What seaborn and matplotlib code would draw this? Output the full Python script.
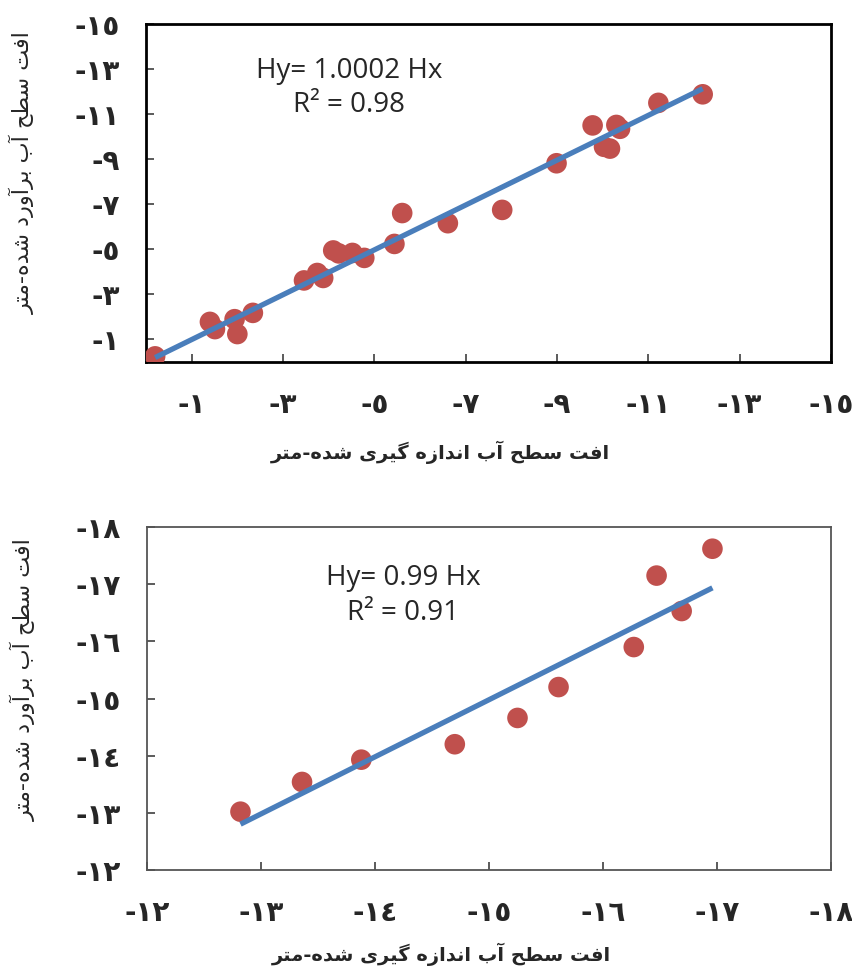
import numpy as np
import pandas as pd
import matplotlib
matplotlib.use("Agg")
import matplotlib.pyplot as plt
import seaborn as sns

# ---------------- data ----------------
top_measured = [-0.20, -1.40, -1.51, -1.94, -2.00, -2.34, -3.46, -3.75, -3.88, -4.10, -4.22,
                -4.52, -4.78, -5.44, -5.61, -6.61, -7.80, -8.99, -9.78, -10.03, -10.16,
                -10.30, -10.38, -11.22, -12.19]
top_estimated = [-0.25, -1.78, -1.46, -1.90, -1.24, -2.18, -3.62, -3.95, -3.73, -4.95, -4.82,
                 -4.84, -4.62, -5.24, -6.61, -6.16, -6.75, -8.82, -10.50, -9.55, -9.47,
                 -10.52, -10.35, -11.50, -11.88]
top_ticks = [-1, -3, -5, -7, -9, -11, -13, -15]
top_tick_labels = ['-١', '-٣', '-٥', '-٧', '-٩', '-١١', '-١٣', '-١٥']
top_annotation = "Hy= 1.0002 Hx\nR² = 0.98"

bot_measured = [-12.82, -13.36, -13.88, -14.70, -15.25, -15.61, -16.27, -16.47, -16.69, -16.96]
bot_estimated = [-13.02, -13.54, -13.93, -14.20, -14.66, -15.20, -15.90, -17.15, -16.53, -17.62]
bot_ticks = [-12, -13, -14, -15, -16, -17, -18]
bot_tick_labels = ['-١٢', '-١٣', '-١٤', '-١٥', '-١٦', '-١٧', '-١٨']
bot_annotation = "Hy= 0.99 Hx\nR² = 0.91"

xlabel_text = "افت سطح آب اندازه گیری شده-متر"
ylabel_text = "افت سطح آب برآورد شده-متر"

# ---------------- minimal Persian shaping ----------------
FORMS = {
    'ا': ('\uFE8D', '\uFE8E', None, None),
    'آ': ('\uFE81', '\uFE82', None, None),
    'ب': ('\uFE8F', '\uFE90', '\uFE91', '\uFE92'),
    'ت': ('\uFE95', '\uFE96', '\uFE97', '\uFE98'),
    'ح': ('\uFEA1', '\uFEA2', '\uFEA3', '\uFEA4'),
    'د': ('\uFEA9', '\uFEAA', None, None),
    'ر': ('\uFEAD', '\uFEAE', None, None),
    'ز': ('\uFEAF', '\uFEB0', None, None),
    'س': ('\uFEB1', '\uFEB2', '\uFEB3', '\uFEB4'),
    'ش': ('\uFEB5', '\uFEB6', '\uFEB7', '\uFEB8'),
    'ط': ('\uFEC1', '\uFEC2', '\uFEC3', '\uFEC4'),
    'ف': ('\uFED1', '\uFED2', '\uFED3', '\uFED4'),
    'م': ('\uFEE1', '\uFEE2', '\uFEE3', '\uFEE4'),
    'ن': ('\uFEE5', '\uFEE6', '\uFEE7', '\uFEE8'),
    'ه': ('\uFEE9', '\uFEEA', '\uFEEB', '\uFEEC'),
    'و': ('\uFEED', '\uFEEE', None, None),
    'گ': ('\uFB92', '\uFB93', '\uFB94', '\uFB95'),
    'ی': ('\uFBFC', '\uFBFD', '\uFBFE', '\uFBFF'),
}


def dual(c):
    return c in FORMS and FORMS[c][2] is not None


def shape(s):
    out = []
    for i, c in enumerate(s):
        if c not in FORMS:
            out.append(c)
            continue
        prev = s[i - 1] if i > 0 else ''
        nxt = s[i + 1] if i < len(s) - 1 else ''
        jp = dual(prev)
        jn = dual(c) and nxt in FORMS
        iso, fin, ini, med = FORMS[c]
        if jp and jn:
            g = med
        elif jp:
            g = fin
        elif jn:
            g = ini
        else:
            g = iso
        out.append(g)
    return ''.join(reversed(out))


# ---------------- style ----------------
sns.set_theme(style="white")
plt.rcParams['font.family'] = ['DejaVu Sans']

RED = '#C0504D'
BLUE = '#4A7EBB'

fig = plt.figure(figsize=(8.53, 9.68), dpi=100)
ax1 = fig.add_axes([146 / 853, 1 - 362 / 968, (831 - 146) / 853, (362 - 24) / 968])
ax2 = fig.add_axes([147 / 853, 1 - 870 / 968, (831 - 147) / 853, (870 - 527) / 968])


def draw(ax, xs, ys, ticks, labels, xlim, ylim, note, note_xy, xlab_y, ylab_y,
         spine_color, spine_w):
    df = pd.DataFrame({'measured': xs, 'estimated': ys})
    sns.scatterplot(data=df, x='measured', y='estimated', ax=ax, s=220, color=RED,
                    edgecolor='none', linewidth=0, zorder=3)
    x = np.array(xs)
    y = np.array(ys)
    slope = np.sum(x * y) / np.sum(x * x)
    fx = np.array([x.max(), x.min()])
    fit = pd.DataFrame({'measured': fx, 'estimated': slope * fx})
    sns.lineplot(data=fit, x='measured', y='estimated', ax=ax, color=BLUE, linewidth=3.8,
                 zorder=4, solid_capstyle='butt')
    ax.set_xlim(*xlim)
    ax.set_ylim(*ylim)
    ax.set_xticks(ticks)
    ax.set_xticklabels(labels, fontsize=20, fontweight='bold')
    ax.set_yticks(ticks)
    ax.set_yticklabels(labels, fontsize=20, fontweight='bold')
    ax.tick_params(axis='both', direction='in', length=6, width=1.2, color='#404040',
                   left=True, bottom=True)
    ax.tick_params(axis='x', pad=21)
    ax.tick_params(axis='y', pad=19)
    for sp in ax.spines.values():
        sp.set_color(spine_color)
        sp.set_linewidth(spine_w)
    ax.set_xlabel(shape(xlabel_text), fontsize=14, fontweight='bold', va='center')
    ax.xaxis.set_label_coords(0.43, xlab_y)
    ax.set_ylabel(shape(ylabel_text), fontsize=16)
    ax.yaxis.set_label_coords(-0.162, ylab_y)
    ax.text(note_xy[0], note_xy[1], note, transform=ax.transAxes, ha='center', va='center',
            fontsize=20, linespacing=1.3,
            family=['Liberation Sans Narrow', 'Open Sans', 'DejaVu Sans'])
    ax.grid(False)


draw(ax1, top_measured, top_estimated, top_ticks, top_tick_labels, (0, -15), (0, -15),
     top_annotation, (0.296, 0.81), -0.266, 0.56, 'black', 2.0)
draw(ax2, bot_measured, bot_estimated, bot_ticks, bot_tick_labels, (-12, -18), (-12, -18),
     bot_annotation, (0.375, 0.80), -0.245, 0.554, '#555555', 1.3)

fig.savefig('out.png', dpi=100, facecolor='white')
